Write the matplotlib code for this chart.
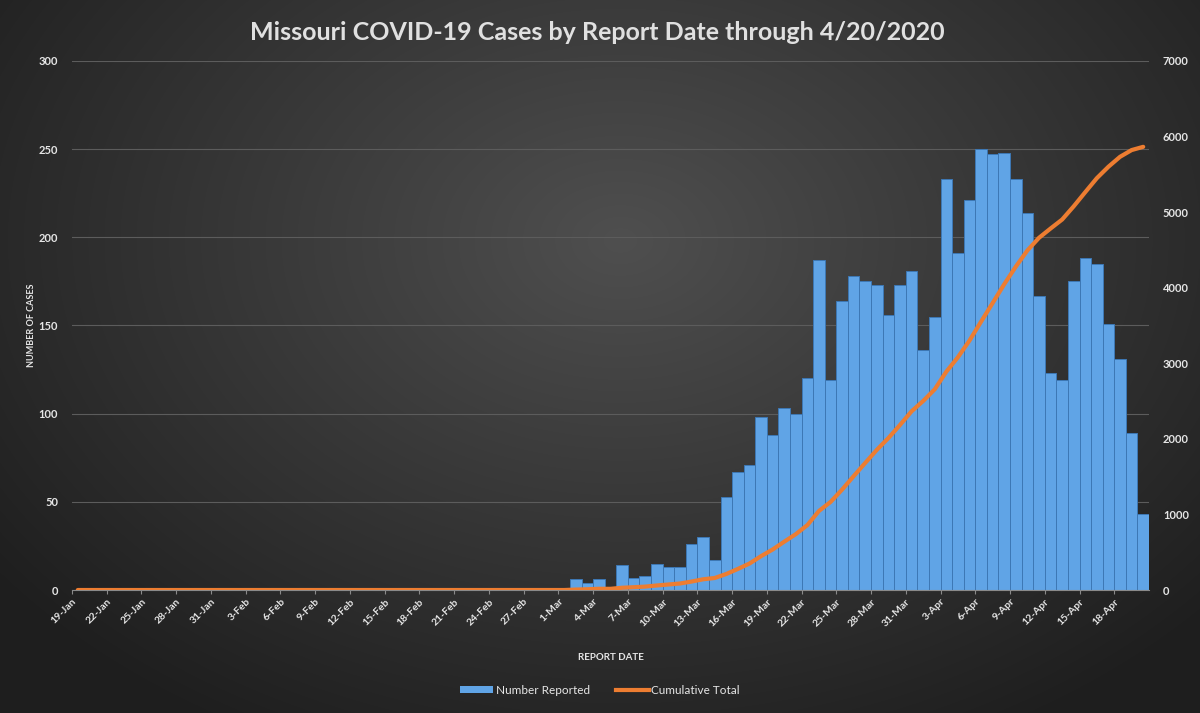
import numpy as np
import pandas as pd
import matplotlib
matplotlib.use('Agg')
import matplotlib.pyplot as plt
from matplotlib.lines import Line2D
from matplotlib.patches import Patch

plt.rcParams['font.family'] = ['Lato', 'DejaVu Sans']

# report dates 19-Jan .. 20-Apr 2020
dates = pd.date_range('2020-01-19', '2020-04-20', freq='D')
date_labels = [f"{d.day}-{d.strftime('%b')}" for d in dates]

# daily number reported, 19-Jan .. 29-Feb all zero
number_reported = [0] * 43 + [
    6, 4, 6, 0, 14, 7, 8, 15, 13, 13, 26, 30, 17,
    53, 67, 71, 98, 88, 103, 100, 120, 187, 119, 164, 178, 175, 173, 156,
    173, 181, 136, 155, 233, 191, 221, 250, 247, 248, 233, 214, 167, 123,
    119, 175, 188, 185, 151, 131, 89, 43,
]

# cumulative total
cumulative_total = [0] * 43 + [
    6, 10, 16, 16, 30, 37, 45, 60, 73, 86, 112, 142, 159,
    212, 279, 350, 448, 536, 639, 739, 859, 1046, 1165, 1329, 1507, 1682,
    1855, 2011, 2184, 2365, 2501, 2656, 2889, 3080, 3301, 3551, 3798, 4046,
    4279, 4493, 4660, 4783, 4902, 5077, 5265, 5450, 5601, 5732, 5821, 5864,
]

left_ticks = [0, 50, 100, 150, 200, 250, 300]
right_ticks = [0, 1000, 2000, 3000, 4000, 5000, 6000, 7000]

TXT = '#e6e6e6'
fig = plt.figure(figsize=(12, 7.13), dpi=100)

# radial gradient background
bg = fig.add_axes([0, 0, 1, 1], zorder=-10)
yy, xx = np.mgrid[0:713, 0:1200]
r = np.sqrt(((xx - 620) / 780.0) ** 2 + ((yy - 240) / 560.0) ** 2)
shade = np.clip(0.31 - 0.19 * r, 0.12, 0.31)
bg.imshow(np.dstack([shade, shade, shade]), aspect='auto', extent=[0, 1, 0, 1])
bg.axis('off')

ax = fig.add_axes([0.06, 0.1725, 0.8975, 0.742])
ax.set_facecolor('none')
x = np.arange(len(dates))
ax.bar(x + 0.5, number_reported, width=1.0, color='#60a4e6',
       edgecolor='#3d78b5', linewidth=0.7, zorder=2)
ax.set_xlim(0, len(dates))
ax.set_ylim(0, 300)
ax.set_yticks(left_ticks)
ax.grid(axis='y', color='#5c5c5c', linewidth=0.8, zorder=0)
ax.set_xticks(x[::3])
ax.set_xticklabels(date_labels[::3], rotation=45, ha='right',
                   rotation_mode='anchor', fontsize=7.5, color=TXT, fontweight='bold')
ax.tick_params(axis='x', length=3, color='#8a8a8a', pad=2)
ax.tick_params(axis='y', length=0, labelsize=8, labelcolor=TXT, pad=10)
for lab in ax.get_yticklabels():
    lab.set_fontweight('bold')
for s in ['top', 'right', 'left']:
    ax.spines[s].set_visible(False)
ax.spines['bottom'].set_color('#8a8a8a')
ax.set_xlabel('REPORT DATE', fontsize=7, fontweight='bold', color=TXT, labelpad=18)
ax.set_ylabel('NUMBER OF CASES', fontsize=6.5, fontweight='bold', color=TXT, labelpad=2)

ax2 = ax.twinx()
ax2.plot(x + 0.5, cumulative_total, color='#ed7d31', linewidth=3, zorder=3,
         solid_capstyle='round')
ax2.set_ylim(0, 7000)
ax2.set_yticks(right_ticks)
ax2.tick_params(axis='y', length=0, labelsize=8, labelcolor=TXT, pad=10)
for lab in ax2.get_yticklabels():
    lab.set_fontweight('bold')
for s in ax2.spines.values():
    s.set_visible(False)

fig.text(0.498, 0.955, 'Missouri COVID-19 Cases by Report Date through 4/20/2020',
         ha='center', va='center', fontsize=18, fontweight='bold', color='#e0e0e0')

handles = [Patch(facecolor='#60a4e6', edgecolor='none'),
           Line2D([0], [0], color='#ed7d31', linewidth=3)]
fig.legend(handles, ['Number Reported', 'Cumulative Total'], loc='center',
           bbox_to_anchor=(0.5, 0.032), ncol=2, frameon=False, fontsize=8.5,
           labelcolor=TXT, handlelength=2.8, handleheight=0.5, handletextpad=0.2,
           columnspacing=2.2)

fig.savefig('out.png', dpi=100, facecolor=fig.get_facecolor())
